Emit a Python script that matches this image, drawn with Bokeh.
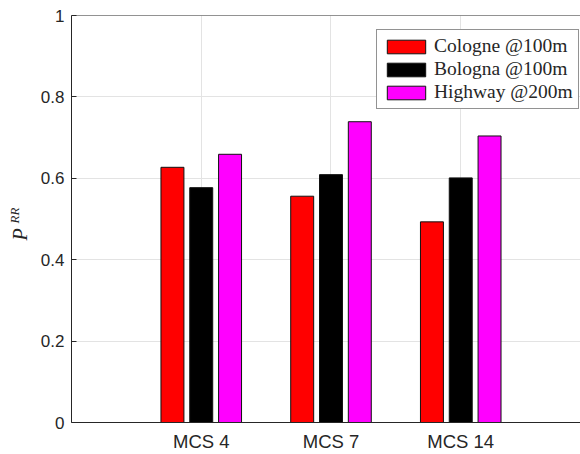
from bokeh.plotting import figure
from bokeh.models import Span, Label, FixedTicker
from bokeh.embed import file_html
from bokeh.resources import INLINE

# Packet reception ratio per MCS for each scenario
categories = ["MCS 4", "MCS 7", "MCS 14"]
series_names = ["Cologne @100m", "Bologna @100m", "Highway @200m"]
cologne = [0.627, 0.556, 0.493]
bologna = [0.577, 0.609, 0.601]
highway = [0.659, 0.739, 0.704]
y_ticks = [0, 0.2, 0.4, 0.6, 0.8, 1]

series = [cologne, bologna, highway]
colors = ["#ff0000", "#000000", "#ff00ff"]
offsets = [-0.222, 0.0, 0.222]
bar_width = 0.177
axis_color = "#262626"
grid_color = "#e3e3e3"

p = figure(width=580, height=454, x_range=(0, 3.923), y_range=(0, 1),
           output_backend="svg", toolbar_location=None,
           min_border_left=70, min_border_right=0,
           min_border_top=15, min_border_bottom=29)
p.outline_line_color = None
p.background_fill_color = "white"
p.border_fill_color = "white"

centers = [i + 1 for i in range(len(categories))]
for vals, name, color, off in zip(series, series_names, colors, offsets):
    p.vbar(x=[c + off for c in centers], top=vals, width=bar_width,
           fill_color=color, line_color="#111111", line_width=1,
           legend_label=name)

# top border of the axes box
p.add_layout(Span(location=1, dimension="width", line_color=axis_color, line_width=1))

# grid
p.xgrid.ticker = FixedTicker(ticks=centers)
p.ygrid.ticker = FixedTicker(ticks=y_ticks)
p.grid.grid_line_color = grid_color
p.grid.grid_line_width = 1

# x axis
p.xaxis.ticker = FixedTicker(ticks=centers)
p.xaxis.major_label_overrides = {c: lab for c, lab in zip(centers, categories)}
p.xaxis.major_tick_in = 0
p.xaxis.major_tick_out = 0
p.xaxis.minor_tick_line_color = None
p.xaxis.axis_line_color = axis_color
p.xaxis.major_label_standoff = 8
p.xaxis.major_label_text_font_size = "18.5px"

# y axis
p.yaxis.ticker = FixedTicker(ticks=y_ticks)
p.yaxis.major_label_overrides = {t: ("%g" % t) for t in y_ticks}
p.yaxis.major_tick_in = 5
p.yaxis.major_tick_out = 0
p.yaxis.minor_tick_line_color = None
p.yaxis.axis_line_color = axis_color
p.yaxis.major_tick_line_color = axis_color
p.yaxis.major_label_standoff = 7
p.yaxis.major_label_text_font_size = "17px"

for ax in (p.xaxis, p.yaxis):
    ax.major_label_text_font = "Liberation Sans"
    ax.major_label_text_color = axis_color

# y label: P with subscript RR, vertical text in the left side panel
p.add_layout(Label(x=4, y=188, x_units="screen", y_units="screen", text="P",
                   angle=1.5708, text_align="center", text_baseline="middle",
                   text_font="Liberation Serif", text_font_style="italic",
                   text_font_size="20px", text_color=axis_color), "left")
p.add_layout(Label(x=14, y=207, x_units="screen", y_units="screen", text="RR",
                   angle=1.5708, text_align="center", text_baseline="middle",
                   text_font="Liberation Serif", text_font_style="italic",
                   text_font_size="13px", text_color=axis_color), "left")

# legend
lg = p.legend[0]
lg.location = (305, 313)
lg.border_line_color = "#262626"
lg.border_line_width = 1
lg.background_fill_color = "white"
lg.background_fill_alpha = 1
lg.label_text_font = "Liberation Serif"
lg.label_text_font_size = "19.5px"
lg.label_text_color = "#262626"
lg.glyph_width = 48
lg.glyph_height = 17
lg.spacing = 1
lg.padding = 5
lg.margin = 0
lg.label_standoff = 4
lg.label_height = 17

open("out.html", "w").write(file_html(p, INLINE))
